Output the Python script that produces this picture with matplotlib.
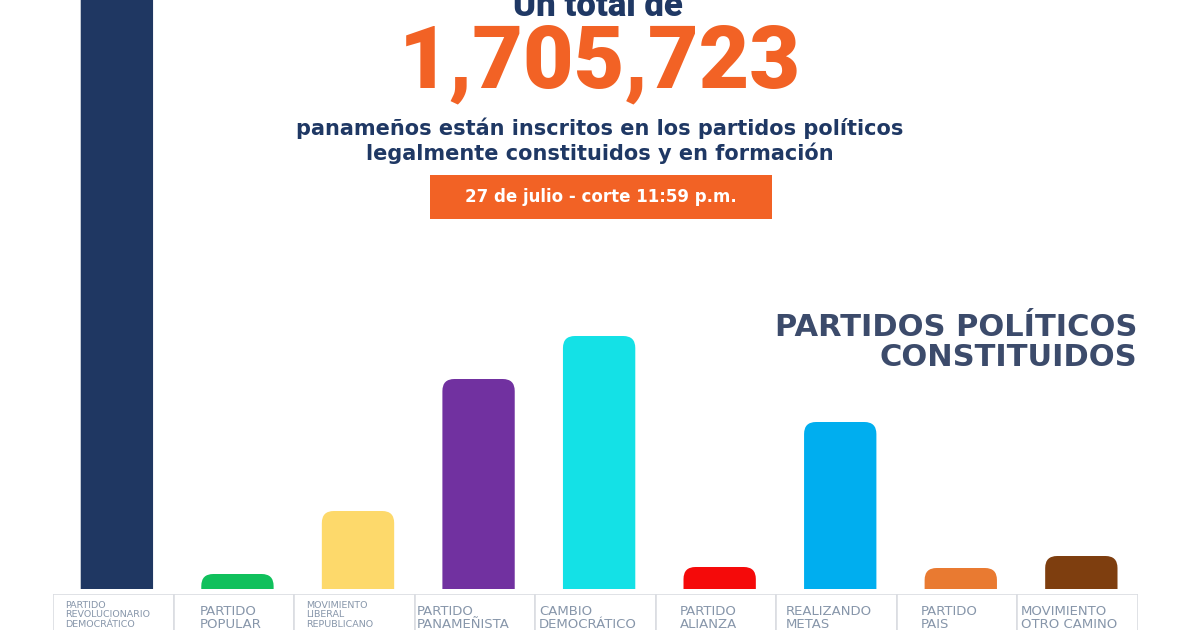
import matplotlib
matplotlib.use("Agg")
import matplotlib.pyplot as plt
from matplotlib.patches import FancyBboxPatch, Rectangle

# ---- data (approximate, thousands of members) ----
parties = ["PARTIDO\nREVOLUCIONARIO\nDEMOCRÁTICO", "PARTIDO\nPOPULAR", "MOVIMIENTO\nLIBERAL\nREPUBLICANO",
           "PARTIDO\nPANAMEÑISTA", "CAMBIO\nDEMOCRÁTICO", "PARTIDO\nALIANZA", "REALIZANDO\nMETAS",
           "PARTIDO\nPAIS", "MOVIMIENTO\nOTRO CAMINO"]
members = [640, 15, 78, 210, 253, 22, 167, 21, 33]
colors = ["#1F3762", "#10C05C", "#FDD96B", "#7131A0", "#14E1E6", "#F50A0A", "#00AEEF", "#E97A31", "#7E3E0F"]
label_small = [True, False, True, False, False, False, False, False, False]
label_dx = [0.10, 0.22, 0.10, 0.02, 0.03, 0.20, 0.08, 0.20, 0.03]

W, H = 1200, 630
fig = plt.figure(figsize=(12, 6.3), dpi=100)
fig.patch.set_facecolor("white")

def fy(p):
    return 1 - p / H

NAVY = "#1F3864"
ORANGE = "#F26225"

# main bar axes
x0, x1, base = 53, 1138, 589
ax = fig.add_axes([x0 / W, fy(base), (x1 - x0) / W, base / H])
ax.set_xlim(-0.5, len(parties) - 0.5)
ax.set_ylim(0, 589)
ax.axis("off")
xs = [i + 0.03 for i in range(len(parties))]
bars = ax.bar(xs, members, width=0.6, color=colors)

fig.canvas.draw()
# rounded tops
px_per_x = ax.transData.transform((1, 0))[0] - ax.transData.transform((0, 0))[0]
px_per_y = ax.transData.transform((0, 1))[1] - ax.transData.transform((0, 0))[1]
aspect = px_per_x / px_per_y
r_px = 12
for b in bars:
    x, y = b.get_x(), b.get_y()
    w, h = b.get_width(), b.get_height()
    b.set_visible(False)
    r = r_px / px_per_x
    drop = r_px / px_per_y
    p = FancyBboxPatch((x, y - drop), w, h + drop,
                       boxstyle=f"round,pad=0,rounding_size={r}",
                       mutation_aspect=aspect, facecolor=b.get_facecolor(),
                       edgecolor="none", clip_on=True)
    ax.add_patch(p)

# label strip axes
ax2 = fig.add_axes([x0 / W, fy(H + 20), (x1 - x0) / W, (H + 20 - 594) / H])
ax2.set_xlim(-0.5, len(parties) - 0.5)
ax2.set_ylim(0, 1)
ax2.axis("off")
ax2.bar(range(len(parties)), [1] * len(parties), width=1.0, color="white",
        edgecolor="#DADDE2", linewidth=1.2)
for i, lab in enumerate(parties):
    if label_small[i]:
        ax2.text(i - 0.5 + label_dx[i], 1 - 0.12, lab, fontsize=6.8, color="#8796AA",
                 ha="left", va="top", linespacing=1.1, family="DejaVu Sans")
    else:
        ax2.text(i - 0.5 + label_dx[i], 1 - 0.2, lab, fontsize=9.5, color="#8796AA",
                 ha="left", va="top", linespacing=1.0, family="DejaVu Sans")

# titles
fig.text(598 / W, fy(6), "Un total de", ha="center", va="center", fontsize=25,
         fontweight="black", color=NAVY, family="Roboto")
fig.text(600 / W, fy(64), "1,705,723", ha="center", va="center", fontsize=63,
         fontweight="black", color=ORANGE, family="Roboto")
fig.text(600 / W, fy(128), "panameños están inscritos en los partidos políticos",
         ha="center", va="center", fontsize=15, fontweight="bold", color=NAVY, family="DejaVu Sans")
fig.text(600 / W, fy(153), "legalmente constituidos y en formación",
         ha="center", va="center", fontsize=15, fontweight="bold", color=NAVY, family="DejaVu Sans")
fig.patches.append(Rectangle((430 / W, fy(219)), (772 - 430) / W, 44 / H,
                             transform=fig.transFigure, facecolor=ORANGE, edgecolor="none"))
fig.text(601 / W, fy(197), "27 de julio - corte 11:59 p.m.", ha="center", va="center",
         fontsize=12, fontweight="bold", color="white", family="DejaVu Sans")

fig.text(1137 / W, fy(327), "PARTIDOS POLÍTICOS", ha="right", va="center", fontsize=22,
         fontweight="heavy", color="#3C4B6B", family="DejaVu Sans")
fig.text(1137 / W, fy(357), "CONSTITUIDOS", ha="right", va="center", fontsize=22,
         fontweight="heavy", color="#3C4B6B", family="DejaVu Sans")

fig.savefig("out.png", dpi=100, facecolor="white")
